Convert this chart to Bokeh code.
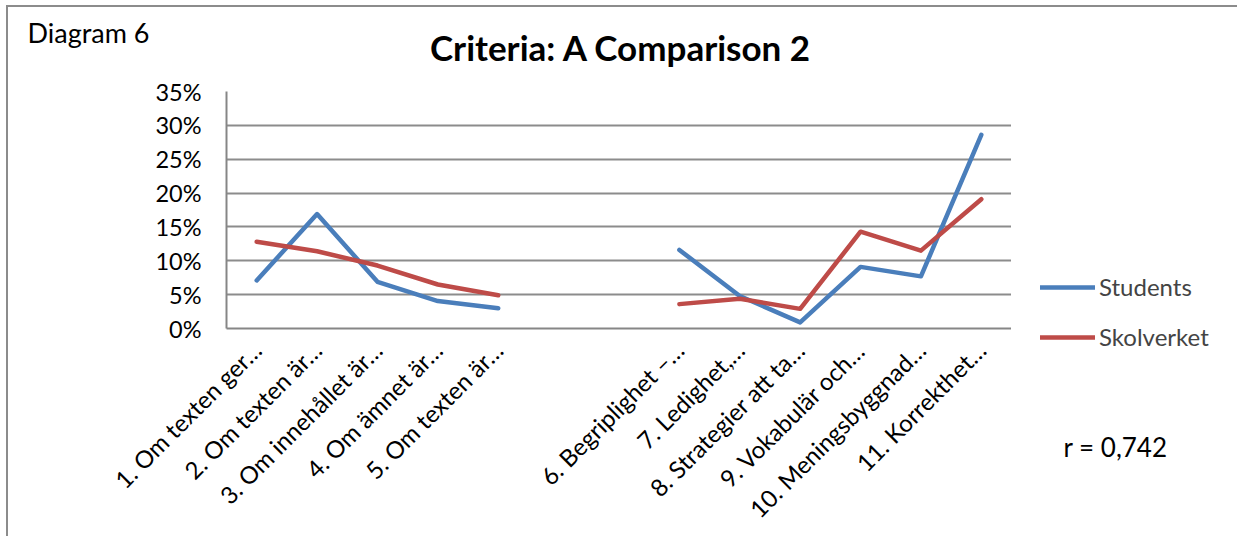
import numpy as np
from math import pi
from bokeh.plotting import figure
from bokeh.layouts import column, row
from bokeh.models import (ColumnDataSource, NumeralTickFormatter, Label, Legend,
                          LegendItem, FixedTicker, Range1d, FactorRange)
from bokeh.embed import file_html
from bokeh.resources import INLINE

# ---- data ----
categories = ["1. Om texten ger…", "2. Om texten är…", "3. Om innehållet är…",
              "4. Om ämnet är…", "5. Om texten är…", " ", "  ",
              "6. Begriplighet –…", "7. Ledighet,…", "8. Strategier att ta…",
              "9. Vokabulär och…", "10. Meningsbyggnad…", "11. Korrekthet…"]
students = [7.1, 16.9, 6.9, 4.05, 3.0, np.nan, np.nan, 11.6, 4.8, 0.9, 9.1, 7.7, 28.6]
skolverket = [12.8, 11.4, 9.3, 6.5, 4.9, np.nan, np.nan, 3.6, 4.4, 2.9, 14.3, 11.5, 19.1]
series_names = ["Students", "Skolverket"]
series_colors = ["#4A7EBB", "#BE4B48"]
y_ticks = [0, 0.05, 0.10, 0.15, 0.20, 0.25, 0.30, 0.35]
title_text = "Criteria: A Comparison  2"
corner_text = "Diagram 6"
r_text = "r = 0,742"

FONT = "Lato"
TOP_W, TOP_H = 1229, 70
MAIN_W, MAIN_H = 1003, 459
SIDE_W = 218


def blank_fig(w, h):
    f = figure(width=w, height=h, output_backend="svg", toolbar_location=None,
               x_range=Range1d(0, 1), y_range=Range1d(0, 1),
               x_axis_type=None, y_axis_type=None,
               min_border_left=0, min_border_right=0,
               min_border_top=0, min_border_bottom=0)
    f.grid.visible = False
    f.outline_line_color = None
    f.background_fill_color = "white"
    f.border_fill_color = "white"
    return f


# ---- top strip: "Diagram 6" and the title ----
top = blank_fig(TOP_W, TOP_H)
top.add_layout(Label(x=19, y=45, x_units="screen", y_units="screen",
                     text=corner_text, text_font=FONT, text_font_size="27px",
                     text_baseline="alphabetic", text_color="black"))
top.add_layout(Label(x=617, y=31, x_units="screen", y_units="screen",
                     text=title_text, text_font=FONT, text_font_size="35px",
                     text_font_style="bold", text_align="center",
                     text_baseline="alphabetic", text_color="black"))

# ---- main chart ----
src = ColumnDataSource(dict(
    cat=categories,
    students=[v / 100 for v in students],
    skolverket=[v / 100 for v in skolverket],
))

p = figure(x_range=FactorRange(*categories), y_range=Range1d(0, 0.35),
           width=MAIN_W, height=MAIN_H, output_backend="svg", toolbar_location=None,
           min_border_left=218, min_border_right=0,
           min_border_top=14, min_border_bottom=203)
p.outline_line_color = None
p.background_fill_color = "white"
p.border_fill_color = "white"

for col, color in zip(["students", "skolverket"], series_colors):
    p.line("cat", col, source=src, line_color=color, line_width=4.5,
           line_cap="round", line_join="round")

p.yaxis.ticker = FixedTicker(ticks=y_ticks)
p.yaxis.formatter = NumeralTickFormatter(format="0%")
for ax in (p.xaxis[0], p.yaxis[0]):
    ax.major_tick_line_color = None
    ax.minor_tick_line_color = None
    ax.axis_line_color = "#868686"
    ax.axis_line_width = 2
    ax.major_label_text_font = FONT
    ax.major_label_text_color = "black"
p.yaxis.major_label_text_font_size = "23.5px"
p.yaxis.major_label_standoff = 19
p.xaxis.major_label_text_font_size = "24px"
p.xaxis.major_label_orientation = pi / 4
p.xaxis.major_label_standoff = 11
p.xgrid.grid_line_color = None
p.ygrid.grid_line_color = "#8c8c8c"
p.ygrid.grid_line_width = 2

# ---- side strip: legend and r value ----
side = blank_fig(SIDE_W, MAIN_H)
items = []
for name, color in zip(series_names, series_colors):
    rr = side.line(x=[np.nan], y=[np.nan], line_color=color, line_width=4.5,
                   line_cap="round")
    items.append(LegendItem(label=name, renderers=[rr]))
legend = Legend(items=items, location=(29, 185), padding=0, margin=0, spacing=21,
                glyph_width=55, glyph_height=28, label_height=28,
                label_standoff=4, border_line_color=None,
                background_fill_alpha=0,
                label_text_font=FONT, label_text_font_size="24px")
side.add_layout(legend)
side.add_layout(Label(x=52, y=90, x_units="screen", y_units="screen",
                      text=r_text, text_font=FONT, text_font_size="26px",
                      text_baseline="alphabetic", text_color="black"))

layout = column(top, row(p, column(side, spacing=0), spacing=0), spacing=0)
layout.styles = {"border-top": "2px solid #8c8c8c", "border-left": "2px solid #8c8c8c",
                 "margin-top": "5px", "margin-left": "6px"}

open("out.html", "w").write(file_html(layout, INLINE))
